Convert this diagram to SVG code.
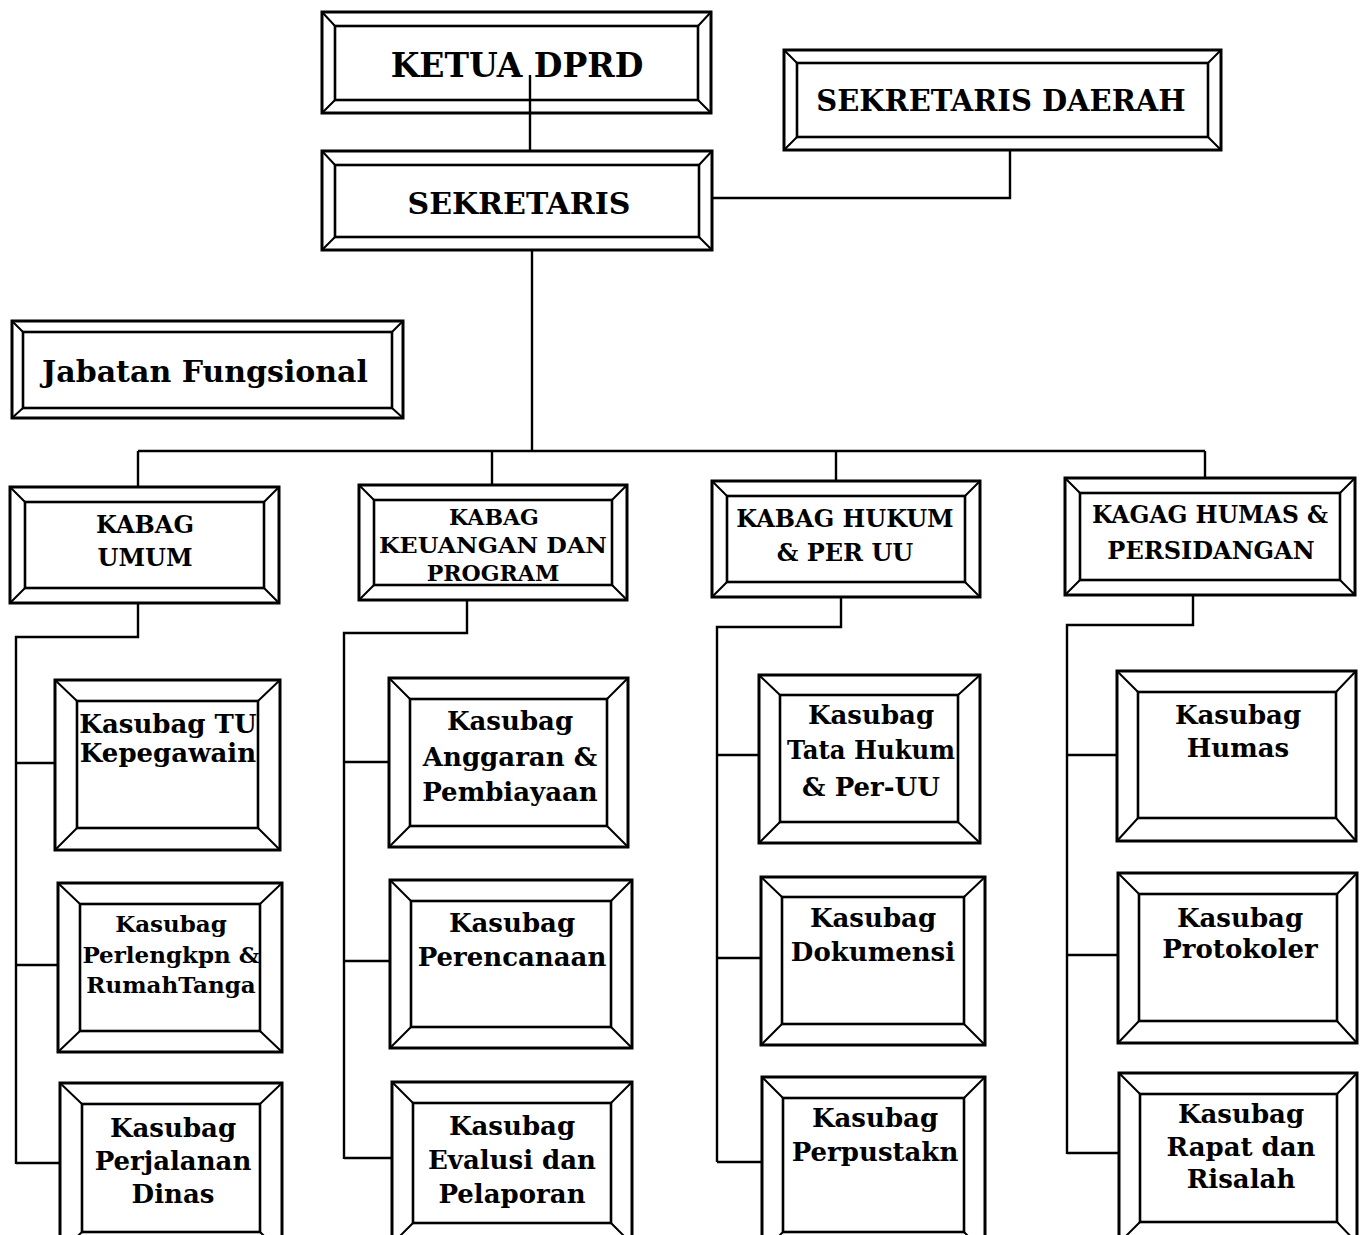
<svg xmlns="http://www.w3.org/2000/svg" width="1364" height="1235" viewBox="0 0 1364 1235">
<style>
.o{fill:#fff;stroke:#000;stroke-width:3}
.i{fill:none;stroke:#000;stroke-width:2.6}
.d{fill:none;stroke:#000;stroke-width:2}
.c{fill:none;stroke:#000;stroke-width:2.4}
text{font-family:"DejaVu Serif","Liberation Serif",serif;font-weight:bold;fill:#000;text-anchor:middle}
.h1{font-size:33px}
.h2{font-size:30px}
.h3{font-size:29px}
.kb{font-size:24px}
.kb2{font-size:22px}
.ks{font-size:26px}
.ksm{font-size:23px}
</style>
<rect width="1364" height="1235" fill="#fff"/>
<g id="connectors">
<path class="c" d="M530,75 V151"/>
<path class="c" d="M712,198 H1010 V150"/>
<path class="c" d="M532,250 V451"/>
<path class="c" d="M138,451 H1205"/>
<path class="c" d="M138,451 V487 M492,451 V485 M836,451 V481 M1205,451 V478"/>
<path class="c" d="M138,603 V637 H16 V1164 M16,763 H55 M16,965 H58 M16,1163 H60"/>
<path class="c" d="M467,600 V633 H344 V1159 M344,762 H389 M344,961 H390 M344,1158 H392"/>
<path class="c" d="M841,597 V627 H717 V1162 M717,755 H759 M717,958 H761 M717,1162 H762"/>
<path class="c" d="M1193,595 V625 H1067 V1154 M1067,755 H1117 M1067,955 H1118 M1067,1153 H1119"/>
</g>
<g id="ketua">
<rect class="o" x="322" y="12" width="389" height="101"/>
<rect class="i" x="335" y="26" width="363" height="74"/>
<path class="d" d="M322,12 L335,26 M711,12 L698,26 M322,113 L335,100 M711,113 L698,100"/>
<path class="c" d="M530,75 V113"/>
<text class="h1" x="517" y="77">KETUA DPRD</text>
</g>
<g id="sekretaris">
<rect class="o" x="322" y="151" width="390" height="99"/>
<rect class="i" x="335" y="165" width="364" height="72"/>
<path class="d" d="M322,151 L335,165 M712,151 L699,165 M322,250 L335,237 M712,250 L699,237"/>
<text class="h2" x="519" y="214">SEKRETARIS</text>
</g>
<g id="sekda">
<rect class="o" x="784" y="50" width="437" height="100"/>
<rect class="i" x="797" y="63" width="411" height="74"/>
<path class="d" d="M784,50 L797,63 M1221,50 L1208,63 M784,150 L797,137 M1221,150 L1208,137"/>
<text class="h3" x="1001" y="111">SEKRETARIS DAERAH</text>
</g>
<g id="jabfung">
<rect class="o" x="12" y="321" width="391" height="97"/>
<rect class="i" x="23" y="332" width="369" height="76"/>
<path class="d" d="M12,321 L23,332 M403,321 L392,332 M12,418 L23,408 M403,418 L392,408"/>
<text class="h2" x="205" y="382">Jabatan Fungsional</text>
</g>
<g id="kabag-umum">
<rect class="o" x="10" y="487" width="269" height="116"/>
<rect class="i" x="25" y="502" width="239" height="86"/>
<path class="d" d="M10,487 L25,502 M279,487 L264,502 M10,603 L25,588 M279,603 L264,588"/>
<text class="kb" x="145" y="533">KABAG</text>
<text class="kb" x="145" y="566">UMUM</text>
</g>
<g id="kabag-keuangan">
<rect class="o" x="359" y="485" width="268" height="115"/>
<rect class="i" x="374" y="500" width="238" height="85"/>
<path class="d" d="M359,485 L374,500 M627,485 L612,500 M359,600 L374,585 M627,600 L612,585"/>
<text class="kb2" x="494" y="525">KABAG</text>
<text class="kb2" x="493" y="553" textLength="228" lengthAdjust="spacingAndGlyphs">KEUANGAN DAN</text>
<text class="kb2" x="493" y="581">PROGRAM</text>
</g>
<g id="kabag-hukum">
<rect class="o" x="712" y="481" width="268" height="116"/>
<rect class="i" x="727" y="496" width="238" height="86"/>
<path class="d" d="M712,481 L727,496 M980,481 L965,496 M712,597 L727,582 M980,597 L965,582"/>
<text class="kb" x="845" y="527">KABAG HUKUM</text>
<text class="kb" x="845" y="561">&amp; PER UU</text>
</g>
<g id="kabag-humas">
<rect class="o" x="1065" y="478" width="290" height="117"/>
<rect class="i" x="1080" y="493" width="260" height="87"/>
<path class="d" d="M1065,478 L1080,493 M1355,478 L1340,493 M1065,595 L1080,580 M1355,595 L1340,580"/>
<text class="kb" x="1210" y="523" textLength="236" lengthAdjust="spacingAndGlyphs">KAGAG HUMAS &amp;</text>
<text class="kb" x="1211" y="559">PERSIDANGAN</text>
</g>
<g id="kasubag-tu">
<rect class="o" x="55" y="680" width="225" height="170"/>
<rect class="i" x="77" y="701" width="181" height="127"/>
<path class="d" d="M55,680 L77,701 M280,680 L258,701 M55,850 L77,828 M280,850 L258,828"/>
<text class="ks" x="168" y="733">Kasubag  TU</text>
<text class="ks" x="168" y="762">Kepegawain</text>
</g>
<g id="kasubag-perlengkapan">
<rect class="o" x="58" y="883" width="224" height="169"/>
<rect class="i" x="80" y="904" width="180" height="127"/>
<path class="d" d="M58,883 L80,904 M282,883 L260,904 M58,1052 L80,1031 M282,1052 L260,1031"/>
<text class="ksm" x="171" y="932">Kasubag</text>
<text class="ksm" x="171" y="963">Perlengkpn &amp;</text>
<text class="ksm" x="171" y="993">RumahTanga</text>
</g>
<g id="kasubag-perjalanan">
<rect class="o" x="60" y="1083" width="222" height="170"/>
<rect class="i" x="82" y="1104" width="178" height="128"/>
<path class="d" d="M60,1083 L82,1104 M282,1083 L260,1104 M60,1253 L82,1232 M282,1253 L260,1232"/>
<text class="ks" x="173" y="1137">Kasubag</text>
<text class="ks" x="173" y="1170">Perjalanan</text>
<text class="ks" x="173" y="1203">Dinas</text>
</g>
<g id="kasubag-anggaran">
<rect class="o" x="389" y="678" width="239" height="169"/>
<rect class="i" x="410" y="699" width="197" height="127"/>
<path class="d" d="M389,678 L410,699 M628,678 L607,699 M389,847 L410,826 M628,847 L607,826"/>
<text class="ks" x="510" y="730">Kasubag</text>
<text class="ks" x="510" y="766">Anggaran &amp;</text>
<text class="ks" x="510" y="801">Pembiayaan</text>
</g>
<g id="kasubag-perencanaan">
<rect class="o" x="390" y="880" width="242" height="168"/>
<rect class="i" x="411" y="901" width="200" height="126"/>
<path class="d" d="M390,880 L411,901 M632,880 L611,901 M390,1048 L411,1027 M632,1048 L611,1027"/>
<text class="ks" x="512" y="932">Kasubag</text>
<text class="ks" x="512" y="966">Perencanaan</text>
</g>
<g id="kasubag-evaluasi">
<rect class="o" x="392" y="1082" width="240" height="162"/>
<rect class="i" x="413" y="1103" width="198" height="120"/>
<path class="d" d="M392,1082 L413,1103 M632,1082 L611,1103 M392,1244 L413,1223 M632,1244 L611,1223"/>
<text class="ks" x="512" y="1135">Kasubag</text>
<text class="ks" x="512" y="1169">Evalusi dan</text>
<text class="ks" x="512" y="1203">Pelaporan</text>
</g>
<g id="kasubag-tatahukum">
<rect class="o" x="759" y="675" width="221" height="168"/>
<rect class="i" x="780" y="695" width="178" height="127"/>
<path class="d" d="M759,675 L780,695 M980,675 L958,695 M759,843 L780,822 M980,843 L958,822"/>
<text class="ks" x="871" y="724">Kasubag</text>
<text class="ks" x="871" y="759" textLength="168" lengthAdjust="spacingAndGlyphs">Tata Hukum</text>
<text class="ks" x="871" y="796">&amp; Per-UU</text>
</g>
<g id="kasubag-dokumensi">
<rect class="o" x="761" y="877" width="224" height="168"/>
<rect class="i" x="782" y="897" width="182" height="127"/>
<path class="d" d="M761,877 L782,897 M985,877 L964,897 M761,1045 L782,1024 M985,1045 L964,1024"/>
<text class="ks" x="873" y="927">Kasubag</text>
<text class="ks" x="873" y="961">Dokumensi</text>
</g>
<g id="kasubag-perpustakaan">
<rect class="o" x="762" y="1077" width="223" height="176"/>
<rect class="i" x="783" y="1098" width="181" height="134"/>
<path class="d" d="M762,1077 L783,1098 M985,1077 L964,1098 M762,1253 L783,1232 M985,1253 L964,1232"/>
<text class="ks" x="875" y="1127">Kasubag</text>
<text class="ks" x="875" y="1161">Perpustakn</text>
</g>
<g id="kasubag-humas">
<rect class="o" x="1117" y="671" width="239" height="170"/>
<rect class="i" x="1138" y="692" width="198" height="126"/>
<path class="d" d="M1117,671 L1138,692 M1356,671 L1336,692 M1117,841 L1138,818 M1356,841 L1336,818"/>
<text class="ks" x="1238" y="724">Kasubag</text>
<text class="ks" x="1238" y="757">Humas</text>
</g>
<g id="kasubag-protokoler">
<rect class="o" x="1118" y="873" width="239" height="170"/>
<rect class="i" x="1139" y="894" width="198" height="127"/>
<path class="d" d="M1118,873 L1139,894 M1357,873 L1337,894 M1118,1043 L1139,1021 M1357,1043 L1337,1021"/>
<text class="ks" x="1240" y="927">Kasubag</text>
<text class="ks" x="1240" y="958">Protokoler</text>
</g>
<g id="kasubag-rapat">
<rect class="o" x="1119" y="1073" width="238" height="170"/>
<rect class="i" x="1140" y="1094" width="197" height="128"/>
<path class="d" d="M1119,1073 L1140,1094 M1357,1073 L1337,1094 M1119,1243 L1140,1222 M1357,1243 L1337,1222"/>
<text class="ks" x="1241" y="1123">Kasubag</text>
<text class="ks" x="1241" y="1156">Rapat dan</text>
<text class="ks" x="1241" y="1188">Risalah</text>
</g>
</svg>
